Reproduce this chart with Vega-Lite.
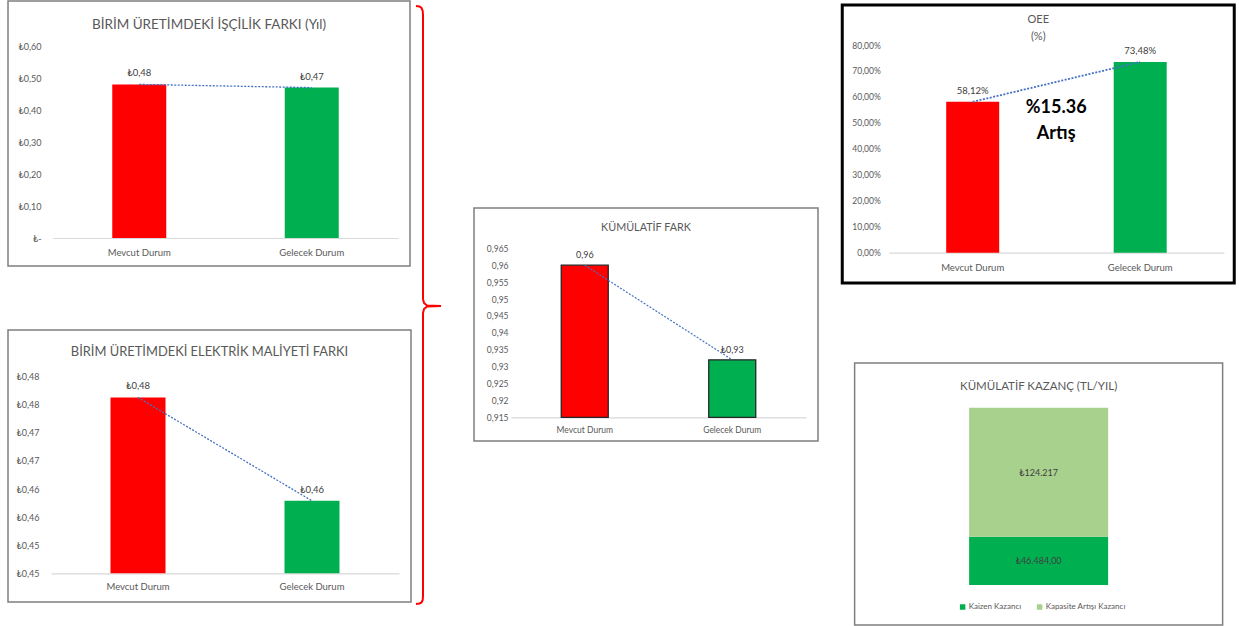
{
  "$schema": "https://vega.github.io/schema/vega-lite/v6.json",
  "background": "white",
  "padding": {"left": 7, "top": 0, "right": 0, "bottom": 0},
  "spacing": 0,
  "resolve": {"scale": {"x": "independent", "y": "independent", "color": "independent"}, "legend": {"color": "independent"}},
  "config": {
    "font": "Lato",
    "view": {"stroke": "#7f7f7f", "strokeWidth": 1.5},
    "axis": {"labelFont": "Lato", "labelColor": "#595959", "grid": false, "ticks": false, "title": null},
    "title": {"font": "Lato", "fontWeight": "normal", "color": "#595959", "anchor": "middle", "frame": "group"}
  },
  "hconcat": [
    {
      "vconcat": [
        {
          "width": 402, "height": 265,
          "title": {"text": "BİRİM ÜRETİMDEKİ İŞÇİLİK FARKI (Yıl)", "fontSize": 13.5, "offset": -30},
          "data": {"values": [
            {"durum": "Mevcut Durum", "deger": 0.48, "etiket": "₺0,48"},
            {"durum": "Gelecek Durum", "deger": 0.47, "etiket": "₺0,47"}
          ]},
          "encoding": {
            "x": {"field": "durum", "type": "nominal", "sort": null,
              "scale": {"range": [45, 390], "paddingInner": 0, "paddingOuter": 0},
              "axis": {"offset": -28, "labelAngle": 0, "labelFontSize": 9.5, "labelPadding": 9, "domainColor": "#d9d9d9", "domainWidth": 1.2}},
            "y": {"field": "deger", "type": "quantitative",
              "scale": {"domain": [0, 0.6], "range": [237, 45], "nice": false},
              "axis": {"offset": -35, "domain": false, "values": [0, 0.1, 0.2, 0.3, 0.4, 0.5, 0.6], "labelFontSize": 9,
                "labelExpr": "datum.value == 0 ? '₺-' : '₺' + replace(format(datum.value, '.2f'), '.', ',')"}}
          },
          "layer": [
            {"mark": {"type": "bar", "size": 54},
             "encoding": {"color": {"field": "durum", "type": "nominal", "scale": {"domain": ["Mevcut Durum", "Gelecek Durum"], "range": ["#ff0000", "#00b050"]}, "legend": null}}},
            {"mark": {"type": "line", "color": "#4472c4", "strokeDash": [2, 1.5], "strokeWidth": 1.3}, "encoding": {}},
            {"mark": {"type": "text", "baseline": "bottom", "dy": -6, "fontSize": 9.5, "color": "#404040"}, "encoding": {"text": {"field": "etiket"}}}
          ]
        },
        {
          "width": 403, "height": 272,
          "title": {"text": "BİRİM ÜRETİMDEKİ ELEKTRİK MALİYETİ FARKI", "fontSize": 12.9, "offset": -29},
          "data": {"values": [
            {"durum": "Mevcut Durum", "deger": 0.4813, "etiket": "₺0,48"},
            {"durum": "Gelecek Durum", "deger": 0.4629, "etiket": "₺0,46"}
          ]},
          "encoding": {
            "x": {"field": "durum", "type": "nominal", "sort": null,
              "scale": {"range": [43, 391], "paddingInner": 0, "paddingOuter": 0},
              "axis": {"offset": -28.7, "labelAngle": 0, "labelFontSize": 9.5, "labelPadding": 8, "domainColor": "#d9d9d9", "domainWidth": 1.2}},
            "y": {"field": "deger", "type": "quantitative",
              "scale": {"domain": [0.45, 0.485], "range": [243.3, 46.7], "nice": false, "zero": false},
              "axis": {"offset": -33, "domain": false, "values": [0.45, 0.455, 0.46, 0.465, 0.47, 0.475, 0.48, 0.485], "labelFontSize": 9,
                "labelExpr": "'₺0,' + floor(datum.value * 100 + 0.001)"}}
          },
          "layer": [
            {"mark": {"type": "bar", "size": 55},
             "encoding": {"y2": {"datum": 0.45}, "color": {"field": "durum", "type": "nominal", "scale": {"domain": ["Mevcut Durum", "Gelecek Durum"], "range": ["#ff0000", "#00b050"]}, "legend": null}}},
            {"mark": {"type": "line", "color": "#4472c4", "strokeDash": [2, 1.5], "strokeWidth": 1.3}, "encoding": {}},
            {"mark": {"type": "text", "baseline": "bottom", "dy": -6, "fontSize": 9.5, "color": "#404040"}, "encoding": {"text": {"field": "etiket"}}}
          ]
        }
      ],
      "spacing": 62,
      "resolve": {"scale": {"x": "independent", "y": "independent", "color": "independent"}}
    },
    {
      "width": 58, "height": 600,
      "view": {"stroke": null},
      "data": {"values": [
        {"i": 1, "bx": 1, "by": 5}, {"i": 2, "bx": 4.5, "by": 5.5}, {"i": 3, "bx": 6.5, "by": 7}, {"i": 4, "bx": 7.7, "by": 10}, {"i": 5, "bx": 8, "by": 14},
        {"i": 6, "bx": 8, "by": 298}, {"i": 7, "bx": 9, "by": 302}, {"i": 8, "bx": 12, "by": 304.5}, {"i": 9, "bx": 26, "by": 305},
        {"i": 10, "bx": 12, "by": 305.5}, {"i": 11, "bx": 9, "by": 308}, {"i": 12, "bx": 8, "by": 312},
        {"i": 13, "bx": 8, "by": 595}, {"i": 14, "bx": 7.7, "by": 599}, {"i": 15, "bx": 6.5, "by": 601.5}, {"i": 16, "bx": 4.5, "by": 602.5}, {"i": 17, "bx": 1, "by": 603}
      ]},
      "mark": {"type": "line", "color": "#ff0000", "strokeWidth": 2},
      "encoding": {
        "x": {"field": "bx", "type": "quantitative", "scale": {"domain": [0, 58], "nice": false, "zero": false}, "axis": null},
        "y": {"field": "by", "type": "quantitative", "scale": {"domain": [0, 600], "reverse": true, "nice": false, "zero": false}, "axis": null},
        "order": {"field": "i", "type": "quantitative"}
      }
    },
    {
      "vconcat": [
        {
          "width": 366, "height": 206,
          "view": {"stroke": null},
          "data": {"values": [{"a": 1}]},
          "mark": {"type": "point", "size": 0, "strokeWidth": 0, "opacity": 0},
          "encoding": {}
        },
        {
          "width": 344, "height": 233,
          "title": {"text": "KÜMÜLATİF FARK", "fontSize": 10.8, "offset": -25},
          "data": {"values": [
            {"durum": "Mevcut Durum", "deger": 0.96, "etiket": "0,96"},
            {"durum": "Gelecek Durum", "deger": 0.932, "etiket": "₺0,93"}
          ]},
          "encoding": {
            "x": {"field": "durum", "type": "nominal", "sort": null,
              "scale": {"range": [37, 332], "paddingInner": 0, "paddingOuter": 0},
              "axis": {"offset": -23.7, "labelAngle": 0, "labelFontSize": 8.5, "labelPadding": 8, "domainColor": "#d9d9d9", "domainWidth": 1.2}},
            "y": {"field": "deger", "type": "quantitative",
              "scale": {"domain": [0.915, 0.965], "range": [209.3, 40.3], "nice": false, "zero": false},
              "axis": {"offset": -36, "domain": false, "values": [0.915, 0.92, 0.925, 0.93, 0.935, 0.94, 0.945, 0.95, 0.955, 0.96, 0.965], "labelFontSize": 8.5,
                "labelExpr": "replace(format(datum.value, '.3~f'), '.', ',')"}}
          },
          "layer": [
            {"mark": {"type": "bar", "size": 47, "stroke": "#262626", "strokeWidth": 1.3},
             "encoding": {"y2": {"datum": 0.915}, "color": {"field": "durum", "type": "nominal", "scale": {"domain": ["Mevcut Durum", "Gelecek Durum"], "range": ["#ff0000", "#00b050"]}, "legend": null}}},
            {"mark": {"type": "line", "color": "#4472c4", "strokeDash": [2, 1.5], "strokeWidth": 1.2}, "encoding": {}},
            {"mark": {"type": "text", "baseline": "bottom", "dy": -5, "fontSize": 9, "color": "#404040"}, "encoding": {"text": {"field": "etiket"}}}
          ]
        }
      ],
      "spacing": 0,
      "resolve": {"scale": {"x": "independent", "y": "independent", "color": "independent"}}
    },
    {
      "vconcat": [
        {
          "width": 10, "height": 2,
          "view": {"stroke": null},
          "data": {"values": [{"a": 1}]},
          "mark": {"type": "point", "size": 0, "strokeWidth": 0, "opacity": 0},
          "encoding": {}
        },
        {
          "vconcat": [
            {
              "width": 392, "height": 278,
              "view": {"stroke": "#000000", "strokeWidth": 3},
              "title": {"text": ["OEE", "(%)"], "fontSize": 11, "lineHeight": 17, "offset": -37},
              "data": {"values": [
                {"durum": "Mevcut Durum", "deger": 0.5812, "etiket": "58,12%"},
                {"durum": "Gelecek Durum", "deger": 0.7348, "etiket": "73,48%", "not1": "%15.36", "not2": "Artış"}
              ]},
              "encoding": {
                "x": {"field": "durum", "type": "nominal", "sort": null,
                  "scale": {"range": [46.7, 381.7], "paddingInner": 0, "paddingOuter": 0},
                  "axis": {"offset": -30.3, "labelAngle": 0, "labelFontSize": 9.5, "labelPadding": 10, "domainColor": "#d9d9d9", "domainWidth": 1.2}},
                "y": {"field": "deger", "type": "quantitative",
                  "scale": {"domain": [0, 0.8], "range": [247.7, 40], "nice": false},
                  "axis": {"offset": -40, "domain": false, "values": [0, 0.1, 0.2, 0.3, 0.4, 0.5, 0.6, 0.7, 0.8], "labelFontSize": 8.5,
                    "labelExpr": "replace(format(datum.value, '.2%'), '.', ',')"}}
              },
              "layer": [
                {"mark": {"type": "bar", "size": 53},
                 "encoding": {"color": {"field": "durum", "type": "nominal", "scale": {"domain": ["Mevcut Durum", "Gelecek Durum"], "range": ["#ff0000", "#00b050"]}, "legend": null}}},
                {"mark": {"type": "line", "color": "#4472c4", "strokeDash": [2, 1.5], "strokeWidth": 1.8}, "encoding": {}},
                {"mark": {"type": "text", "baseline": "bottom", "dy": -6, "fontSize": 9.5, "color": "#404040"}, "encoding": {"text": {"field": "etiket"}}},
                {"transform": [{"filter": "isValid(datum.not1)"}],
                 "mark": {"type": "text", "fontSize": 18, "fontWeight": "bold", "fill": "#000000", "dx": -84, "baseline": "middle"},
                 "encoding": {"y": {"datum": 0.5574}, "text": {"field": "not1", "type": "nominal"}}},
                {"transform": [{"filter": "isValid(datum.not2)"}],
                 "mark": {"type": "text", "fontSize": 18, "fontWeight": "bold", "fill": "#000000", "dx": -84, "baseline": "middle"},
                 "encoding": {"y": {"datum": 0.457}, "text": {"field": "not2", "type": "nominal"}}}
              ]
            },
            {
              "width": 368, "height": 262,
              "title": {"text": "KÜMÜLATİF KAZANÇ (TL/YIL)", "fontSize": 11.5, "offset": -29},
              "data": {"values": [
                {"grup": "Kazanç", "kalem": "Kaizen Kazancı", "sira": 1, "deger": 46484, "etiket": "₺46.484,00"},
                {"grup": "Kazanç", "kalem": "Kapasite Artışı Kazancı", "sira": 2, "deger": 124217, "etiket": "₺124.217"}
              ]},
              "layer": [
                {"mark": {"type": "bar", "size": 139},
                 "encoding": {
                   "x": {"field": "grup", "type": "nominal", "scale": {"range": [0, 368]}, "axis": null},
                   "y": {"field": "deger", "type": "quantitative", "stack": "zero", "scale": {"domain": [0, 170701], "range": [222, 44.7], "nice": false}, "axis": null},
                   "order": {"field": "sira", "type": "quantitative"},
                   "color": {"field": "kalem", "type": "nominal",
                     "scale": {"domain": ["Kaizen Kazancı", "Kapasite Artışı Kazancı"], "range": ["#00b050", "#a9d18e"]},
                     "legend": {"orient": "none", "legendX": 104, "legendY": 240, "direction": "horizontal", "symbolType": "square", "symbolSize": 30, "symbolStrokeWidth": 0, "labelFontSize": 8, "labelColor": "#595959", "title": null, "columnPadding": 14, "labelOffset": 2}}
                 }},
                {"transform": [
                   {"stack": "deger", "groupby": ["grup"], "sort": [{"field": "sira"}], "as": ["y0", "y1"]},
                   {"filter": "datum.sira == 2"}
                 ],
                 "mark": {"type": "text", "baseline": "middle", "dy": 65, "fontSize": 9, "color": "#404040"},
                 "encoding": {
                   "x": {"field": "grup", "type": "nominal"},
                   "y": {"field": "y1", "type": "quantitative"},
                   "text": {"field": "etiket"}
                 }},
                {"transform": [
                   {"stack": "deger", "groupby": ["grup"], "sort": [{"field": "sira"}], "as": ["y0", "y1"]},
                   {"filter": "datum.sira == 1"}
                 ],
                 "mark": {"type": "text", "baseline": "middle", "dy": 24, "fontSize": 9, "color": "#404040"},
                 "encoding": {
                   "x": {"field": "grup", "type": "nominal"},
                   "y": {"field": "y1", "type": "quantitative"},
                   "text": {"field": "etiket"}
                 }}
              ]
            }
          ],
          "spacing": 77,
          "center": true,
          "resolve": {"scale": {"x": "independent", "y": "independent", "color": "independent"}}
        }
      ],
      "spacing": 0,
      "resolve": {"scale": {"x": "independent", "y": "independent", "color": "independent"}}
    }
  ]
}
